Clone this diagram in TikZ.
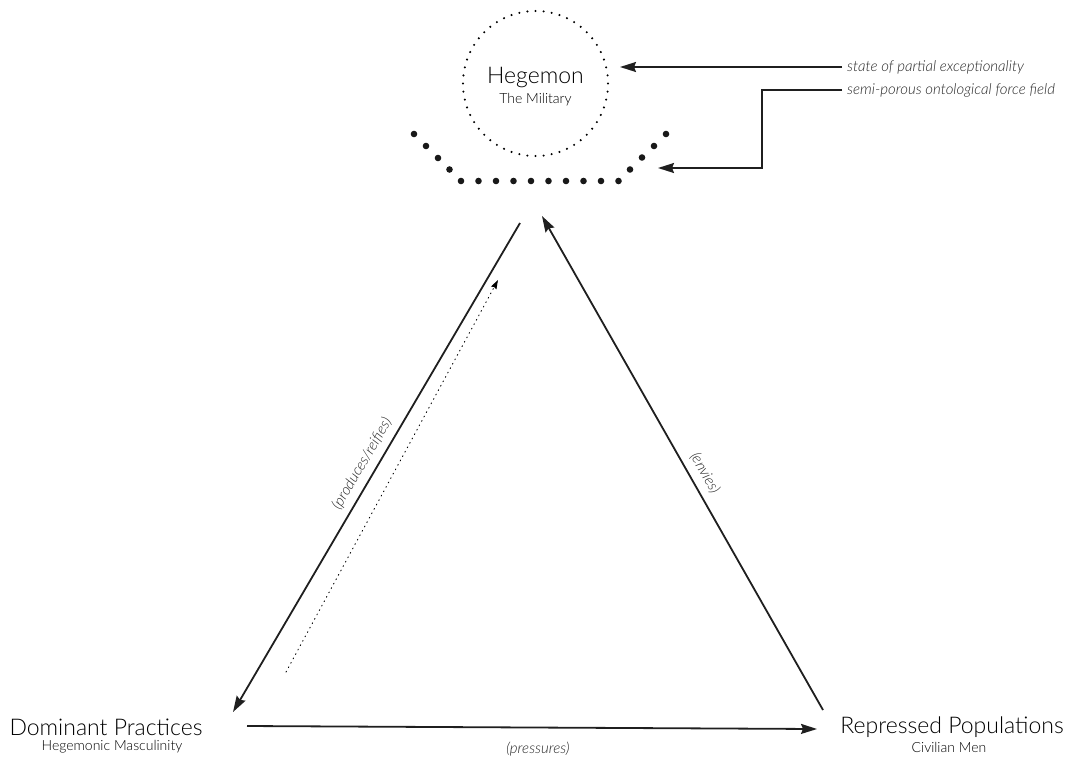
\documentclass[tikz,border=0pt]{standalone}
\usepackage{fontspec}
\setmainfont{Lato}[UprightFont={* Light}, ItalicFont={* Light Italic}]
\usetikzlibrary{arrows.meta}
\begin{document}
\begin{tikzpicture}[x=1pt,y=1pt,yscale=-1,
  main/.style={font=\fontsize{23}{25}\selectfont, text=black, inner sep=0pt, anchor=base},
  sub/.style={font=\fontsize{14}{16}\selectfont, text=black, inner sep=0pt, anchor=base},
  lab/.style={font=\itshape\fontsize{15}{17}\selectfont, text=black!85, inner sep=0pt},
  conn/.style={line width=1.8pt, draw=black!88, -{Stealth[length=16pt,width=10pt,inset=2pt]}},
  dotarrow/.style={line width=0.9pt, dash pattern=on 0.9pt off 4.1pt, line cap=round, -{Stealth[length=9pt,width=6pt,inset=1pt,line cap=butt]}},
  bigdot/.style={fill=black!90, draw=none},
  smalldot/.style={fill=black, draw=none}]
\useasboundingbox (0,0) rectangle (1065,764);
% Hegemon circle of dots
\foreach \i in {0,...,55} {
  \fill[smalldot, shift={(535.5,83.5)}] (\i*6.42857:72.5) circle[radius=1.15pt];
}
\node[main] (heg) at (535.5,83) {Hegemon};
\node[sub] (mil) at (535.5,103) {The Military};
% force field of big dots
\foreach \x/\y in {414/134,426/146,438/158,449.5/169.5,461/181,478.5/181,496/181,513.5/181,531/181,548.5/181,566/181,583.5/181,601/181,618.5/181,630/169.5,642/157.5,654/146,666/134} {
  \fill[bigdot] (\x,\y) circle[radius=3.3pt];
}
% side labels
\node[lab, anchor=west] (exc) at (847,67) {state of partial exceptionality};
\node[lab, anchor=west] (fld) at (847,90) {semi-porous ontological force field};
\coordinate (exctip) at (620,67);
\coordinate (fldtip) at (658,168);
\coordinate (fldbend) at (762,168);
\draw[conn] ([xshift=-5pt]exc.west) -- (exctip);
\draw[conn] ([xshift=-5pt]fld.west) -| (fldbend) -- (fldtip);
% vertices
\node[main] (dom) at (106,735) {Dominant Practices};
\node[sub] (hm) at (112,750) {Hegemonic Masculinity};
\node[main] (rep) at (952,733) {Repressed Populations};
\node[sub] (cm) at (949,752) {Civilian Men};
% triangle connectors
\coordinate (ltop) at (520,223);
\coordinate (ltip) at (233,712);
\coordinate (rbot) at (823,710);
\coordinate (rtip) at (542,216);
\coordinate (bstart) at (247,726);
\coordinate (btip) at (817,729);
\draw[conn] (ltop) -- (ltip);
\draw[conn] (rbot) -- (rtip);
\draw[conn] (bstart) -- (btip);
\node[lab, rotate=59.6] (prod) at (362,464) {(produces/reifies)};
\node[lab, rotate=-60.3] (env) at (705,473) {(envies)};
\node[lab] (pres) at (538,749) {(pressures)};
% dotted arrow
\coordinate (dstart) at (286,672);
\coordinate (dtip) at (498,280);
\draw[dotarrow] (dstart) -- (dtip);
\end{tikzpicture}
\end{document}
